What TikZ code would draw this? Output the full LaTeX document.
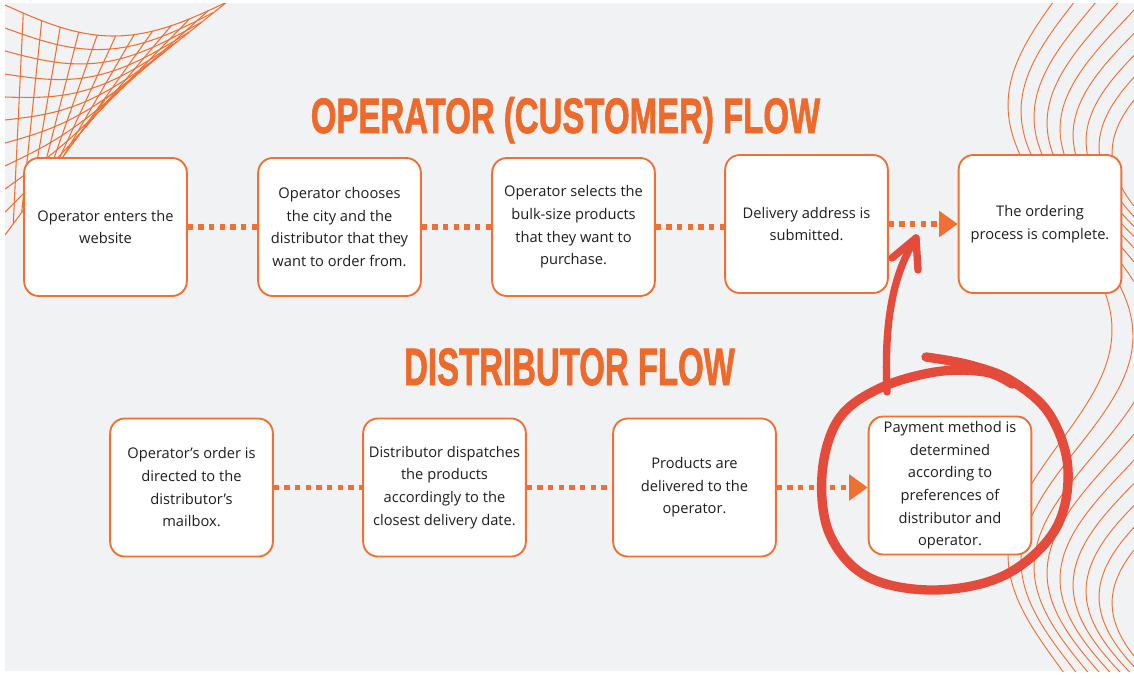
\documentclass[tikz,border=0pt]{standalone}
\usepackage{fontspec}
\setmainfont{Open Sans}
\newfontfamily\headfont{Liberation Sans}[BoldFeatures={FakeBold=1.6}]
\usepackage{tikz}
\usetikzlibrary{arrows.meta, positioning}
\definecolor{flowOrange}{HTML}{F07033}
\definecolor{titleOrange}{HTML}{EE6A2A}
\definecolor{markRed}{HTML}{E44B3B}
\definecolor{pageGrey}{HTML}{F0F2F4}
\definecolor{inkGrey}{HTML}{1E1E1E}
\tikzset{
  stepcard/.style={
    draw=flowOrange, line width=1.4pt, fill=white,
    rounded corners=11pt,
    minimum width=122pt, minimum height=103.5pt,
    align=center, text=inkGrey, inner sep=2pt,
    font=\fontsize{11}{17}\selectfont
  },
  dotlink/.style={draw=flowOrange, line width=4pt, dash pattern=on 4pt off 4pt},
  dotarrow/.style={dotlink, -{Triangle[length=14pt, width=19pt]}},
  flowtitle/.style={text=titleOrange, inner sep=0pt, anchor=base},
  meshline/.style={draw=flowOrange, line width=0.8pt},
  waveline/.style={draw=flowOrange, line width=0.7pt},
  redmark/.style={draw=markRed, line width=5.5pt, line cap=round, line join=round}
}

\begin{document}
\begin{tikzpicture}[x=0.75pt, y=-0.75pt]
\useasboundingbox (0,0) rectangle (1134,678);

% Page background
\fill[white] (0,0) rectangle (1134,678);
\fill[pageGrey] (5,3) rectangle (1134,671);

\begin{scope}
\clip (5,3) rectangle (1134,671);
% Mesh in the top left corner
\foreach \v in {0,0.1,...,1.01}
  \draw[meshline] plot[smooth, domain=0:1, samples=20, variable=\t]
    ({5 + \t*(220 - 120*\v)},
     {(1-\t)*(5 + 230*\v) + \t*(3 + 97*\v) + 32*sin(180*\t)*(1-\v)});
\foreach \u in {0.083,0.167,...,1.01}
  \draw[meshline] plot[smooth, domain=0:1, samples=20, variable=\t]
    ({5 + \u*(220 - 120*\t)},
     {(1-\u)*(5 + 230*\t) + \u*(3 + 97*\t) + 32*sin(180*\u)*(1-\t)});

% Waves on the right edge
\foreach \i in {0,...,8}
  \draw[waveline] plot[smooth, domain=0:678, samples=45, variable=\s]
    ({1060 + 17*\i + (52 + 4*\i)*cos(0.8*(\s - 330 - 6*\i))}, {\s});
\end{scope}

% Titles
\node[flowtitle] (customerTitle) at (565.5,133)
  {\resizebox{382pt}{27pt}{\headfont\bfseries OPERATOR (CUSTOMER) FLOW}};
\node[flowtitle] (distributorTitle) at (569.5,385)
  {\resizebox{248pt}{27.5pt}{\headfont\bfseries DISTRIBUTOR FLOW}};

% Operator flow
\node[stepcard] (enterSite) at (105.5,227) {Operator enters the\\website};
\node[stepcard] (chooseCity) at (339.5,227) {Operator chooses\\the city and the\\distributor that they\\want to order from.};
\node[stepcard] (selectProducts) at (573.5,227) {Operator selects the\\bulk-size products\\that they want to\\purchase.};
\node[stepcard] (submitAddress) at (806.5,224) {Delivery address is\\submitted.};
\node[stepcard] (orderComplete) at (1040,224) {The ordering\\process is complete.};

% Distributor flow
\node[stepcard] (orderMailbox) at (191.5,487.5) {Operator’s order is\\directed to the\\distributor’s\\mailbox.};
\node[stepcard] (dispatchProducts) at (444.5,487.5) {Distributor dispatches\\the products\\accordingly to the\\closest delivery date.};
\node[stepcard] (deliverProducts) at (694.5,487.5) {Products are\\delivered to the\\operator.};
\node[stepcard] (paymentMethod) at (950,485.5) {Payment method is\\determined\\according to\\preferences of\\distributor and\\operator.};

% Dotted links
\draw[dotlink] (enterSite.east) -- (chooseCity.west);
\draw[dotlink] (chooseCity.east) -- (selectProducts.west);
\draw[dotlink] (selectProducts.east) -- (selectProducts.east -| submitAddress.west);
\draw[dotarrow] (submitAddress.east) -- (orderComplete.west);
\draw[dotlink] (orderMailbox.east) -- (dispatchProducts.west);
\draw[dotlink] (dispatchProducts.east) -- (deliverProducts.west);
\draw[dotarrow] (deliverProducts.east) -- (deliverProducts.east -| paymentMethod.west);

% Hand drawn loop and arrow
\draw[redmark, line width=7pt] plot[smooth, tension=0.6] coordinates {
  (926,357) (970,365) (1012,381) (1050,415) (1068,470) (1055,530)
  (1005,575) (935,590) (868,577) (830,535) (822,475) (838,420)
  (878,389) (935,372) (985,372) (1012,384)};
\coordinate (loopTop) at (887,392);
\coordinate (markTip) at (916,238);
\draw[redmark] (loopTop) .. controls (884,325) and (892,275) .. (markTip);
\draw[redmark] (markTip) ++(-24,20) -- (markTip) -- ++(2,32);

\end{tikzpicture}
\end{document}
